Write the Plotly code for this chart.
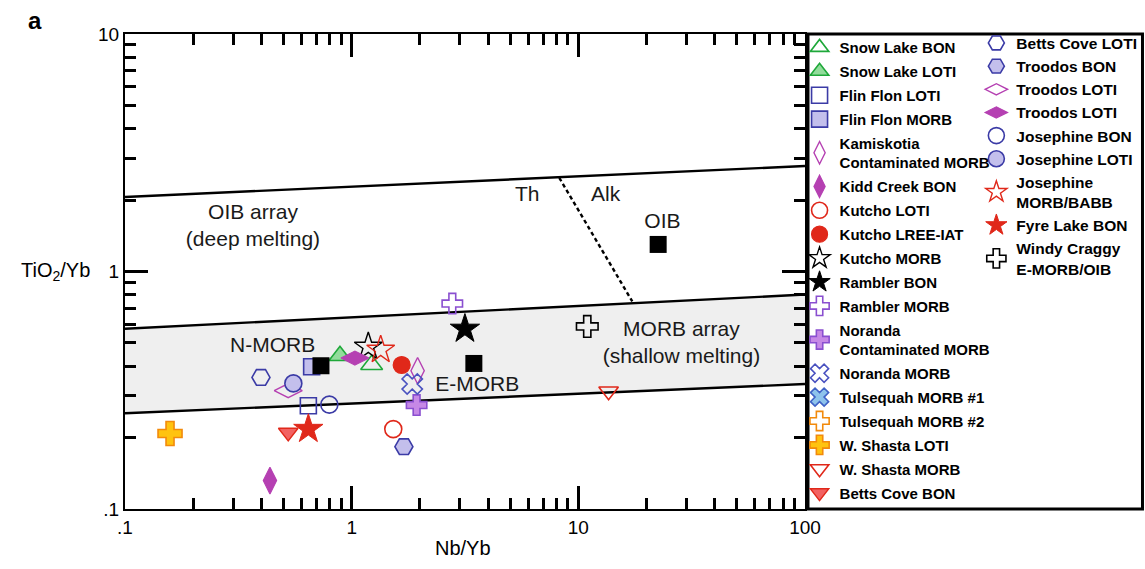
import plotly.graph_objects as go

# ---------------- data ----------------
# Reference compositions (black squares)
ref_labels = ["N-MORB", "E-MORB", "OIB"]
ref_nb_yb = [0.732, 3.46, 22.5]
ref_tio2_yb = [0.401, 0.410, 1.30]

# Array boundaries (Nb/Yb at the two ends of the x range)
band_x = [0.1, 100]
morb_lower = [0.253, 0.336]
morb_upper = [0.574, 0.800]
oib_upper = [2.06, 2.78]
# Tholeiitic / alkaline divider
divider_x = [8.24, 17.3]
divider_y = [2.48, 0.748]

# Samples: name, Nb/Yb, TiO2/Yb (None = legend only)
left_names = ["Snow Lake BON", "Snow Lake LOTI", "Flin Flon LOTI", "Flin Flon MORB",
              "Kamiskotia<br>Contaminated MORB", "Kidd Creek BON", "Kutcho LOTI",
              "Kutcho LREE-IAT", "Kutcho MORB", "Rambler BON", "Rambler MORB",
              "Noranda<br>Contaminated MORB", "Noranda MORB", "Tulsequah MORB #1",
              "Tulsequah MORB #2", "W. Shasta LOTI", "W. Shasta MORB", "Betts Cove BON"]
left_nb_yb = [1.225, 0.888, 0.644, 0.666, 1.954, 0.436, 1.526, 1.662, 1.184, 3.16, 2.78,
              1.934, 1.85, None, None, 0.158, 13.6, 0.525]
left_tio2_yb = [0.405, 0.442, 0.272, 0.397, 0.382, 0.1317, 0.217, 0.404, 0.482, 0.573, 0.733,
                0.274, 0.336, None, None, 0.208, 0.313, 0.210]

right_names = ["Betts Cove LOTI", "Troodos BON", "Troodos LOTI", "Troodos LOTI",
               "Josephine BON", "Josephine LOTI", "Josephine<br>MORB/BABB",
               "Fyre Lake BON", "Windy Craggy<br>E-MORB/OIB"]
right_nb_yb = [0.398, 1.70, 0.525, 1.034, 0.797, 0.553, 1.343, 0.644, 10.95]
right_tio2_yb = [0.358, 0.183, 0.315, 0.432, 0.275, 0.338, 0.468, 0.217, 0.587]

x_tickvals = [0.1, 1, 10, 100]
x_ticktext = [".1", "1", "10", "100"]
y_tickvals = [0.1, 1, 10]
y_ticktext = [".1", "1", "10"]

# ---------------- styles ----------------
GREEN, GREEN_F = "#1fa83a", "#92dc9b"
BLUE, LAV = "#3b3ba6", "#c3bfec"
MAG = "#b540b2"
RED = "#e0281a"
PURP, PURP_F = "#8a4fd0", "#c688e6"
XBLUE, XBLUE_F = "#3f62c6", "#8ec3ec"
ORANGE, YEL = "#f28a0c", "#ffc30f"
SALMON = "#f26262"

left_styles = [
    dict(symbol="triangle-up-open", size=19, color=GREEN, line=dict(color=GREEN, width=1.6)),
    dict(symbol="triangle-up", size=19, color=GREEN_F, line=dict(color=GREEN, width=1.6)),
    dict(symbol="square-open", size=16, color=BLUE, line=dict(color=BLUE, width=1.6)),
    dict(symbol="square", size=16, color=LAV, line=dict(color=BLUE, width=1.6)),
    dict(symbol="diamond-tall-open", size=19, color=MAG, line=dict(color=MAG, width=1.4)),
    dict(symbol="diamond-tall", size=19, color=MAG, line=dict(color=MAG, width=1.2)),
    dict(symbol="circle-open", size=17, color=RED, line=dict(color=RED, width=1.6)),
    dict(symbol="circle", size=17, color=RED, line=dict(color=RED, width=1.2)),
    dict(symbol="star-open", size=21, color="black", line=dict(color="black", width=1.4)),
    dict(symbol="star", size=22, color="black", line=dict(color="black", width=1)),
    dict(symbol="cross-open", size=17, color=PURP, line=dict(color=PURP, width=1.6)),
    dict(symbol="cross", size=17, color=PURP_F, line=dict(color=PURP, width=1.6)),
    dict(symbol="x-open", size=18, color="#4a52c0", line=dict(color="#4a52c0", width=1.6)),
    dict(symbol="x", size=18, color=XBLUE_F, line=dict(color=XBLUE, width=1.6)),
    dict(symbol="cross-open", size=18, color=ORANGE, line=dict(color=ORANGE, width=1.6)),
    dict(symbol="cross", size=20, color=YEL, line=dict(color=ORANGE, width=1.6)),
    dict(symbol="triangle-down-open", size=17, color=RED, line=dict(color=RED, width=1.6)),
    dict(symbol="triangle-down", size=17, color=SALMON, line=dict(color=RED, width=1.4)),
]
right_styles = [
    dict(symbol="hexagon2-open", size=18, color=BLUE, line=dict(color=BLUE, width=1.6)),
    dict(symbol="hexagon2", size=18, color=LAV, line=dict(color=BLUE, width=1.6)),
    dict(symbol="diamond-wide-open", size=20, color=MAG, line=dict(color=MAG, width=1.4)),
    dict(symbol="diamond-wide", size=20, color=MAG, line=dict(color=MAG, width=1.2)),
    dict(symbol="circle-open", size=17, color=BLUE, line=dict(color=BLUE, width=1.6)),
    dict(symbol="circle", size=17, color=LAV, line=dict(color=BLUE, width=1.6)),
    dict(symbol="star-open", size=21, color=RED, line=dict(color=RED, width=1.4)),
    dict(symbol="star", size=22, color=RED, line=dict(color=RED, width=1)),
    dict(symbol="cross-open", size=18, color="black", line=dict(color="black", width=1.6)),
]

FONT = "Liberation Sans, Arial, Helvetica, sans-serif"

fig = go.Figure()

# MORB array band (shaded)
fig.add_trace(go.Scatter(
    x=band_x + band_x[::-1], y=morb_lower + morb_upper[::-1],
    fill="toself", fillcolor="#efefef", mode="lines", line=dict(width=0),
    showlegend=False, hoverinfo="skip"))
for yy in (morb_lower, morb_upper, oib_upper):
    fig.add_trace(go.Scatter(x=band_x, y=yy, mode="lines",
                             line=dict(color="black", width=2.4),
                             showlegend=False, hoverinfo="skip"))
fig.add_trace(go.Scatter(x=divider_x, y=divider_y, mode="lines",
                         line=dict(color="black", width=2.4, dash="4px,3px"),
                         showlegend=False, hoverinfo="skip"))

# Region labels
label_text = ["OIB array<br>(deep melting)", "MORB array<br>(shallow melting)", "Th", "Alk",
              "N-MORB", "E-MORB", "OIB"]
label_x = [0.367, 28.5, 5.95, 13.2, 0.448, 3.58, 23.5]
label_y = [1.54, 0.493, 2.09, 2.08, 0.482, 0.330, 1.61]
fig.add_trace(go.Scatter(x=label_x, y=label_y, text=label_text, mode="text",
                         textposition="middle center",
                         textfont=dict(family=FONT, size=21, color="#1a1a1a"),
                         showlegend=False, hoverinfo="skip"))

# Sample traces
for i, (n, xv, yv, st) in enumerate(zip(left_names, left_nb_yb, left_tio2_yb, left_styles)):
    fig.add_trace(go.Scatter(x=[xv], y=[yv], mode="markers", name=n, marker=st,
                             legend="legend", legendgroup=f"L{i}"))
for i, (n, xv, yv, st) in enumerate(zip(right_names, right_nb_yb, right_tio2_yb, right_styles)):
    fig.add_trace(go.Scatter(x=[xv], y=[yv], mode="markers", name=n, marker=st,
                             legend="legend2", legendgroup=f"R{i}"))

# Reference compositions (drawn on top)
fig.add_trace(go.Scatter(x=ref_nb_yb, y=ref_tio2_yb, mode="markers",
                         marker=dict(symbol="square", size=17, color="black"),
                         text=ref_labels, showlegend=False))

axis_common = dict(
    type="log", showgrid=False, zeroline=False,
    showline=True, linecolor="black", linewidth=2, mirror="ticks",
    ticks="inside", ticklen=23, tickwidth=2.5, tickcolor="black",
    tickfont=dict(family=FONT, size=19, color="black"),
)
minor_x = [m * d for d in (0.1, 1, 10) for m in range(2, 10)]
minor_y = [m * d for d in (0.1, 1) for m in range(2, 10)]

fig.update_xaxes(range=[-1, 2], tickvals=x_tickvals, ticktext=x_ticktext,
                 minor=dict(tickvals=minor_x, ticks="inside", ticklen=11, tickwidth=2.5,
                            tickcolor="black", showgrid=False),
                 **axis_common)
fig.update_yaxes(range=[-1, 1], tickvals=y_tickvals, ticktext=y_ticktext,
                 minor=dict(tickvals=minor_y, ticks="inside", ticklen=11, tickwidth=2.5,
                            tickcolor="black", showgrid=False),
                 **axis_common)

legend_font1 = dict(family=FONT, size=15, color="black", weight="bold")
legend_font2 = dict(family=FONT, size=15.5, color="black", weight="bold")
fig.update_layout(
    width=1145, height=569,
    margin=dict(l=125, r=340, t=34, b=60, autoexpand=False),
    paper_bgcolor="white", plot_bgcolor="white",
    legend=dict(x=0.992, y=1.006, xanchor="left", yanchor="top", xref="paper", yref="paper",
                font=legend_font1, bgcolor="rgba(0,0,0,0)", tracegroupgap=1.4,
                maxheight=560, itemclick=False, itemdoubleclick=False),
    legend2=dict(x=1.252, y=1.016, xanchor="left", yanchor="top", xref="paper", yref="paper",
                 font=legend_font2, bgcolor="rgba(0,0,0,0)", tracegroupgap=0,
                 maxheight=560, itemclick=False, itemdoubleclick=False),
    shapes=[dict(type="rect", xref="paper", yref="paper", x0=1.0044, x1=1.4963, y0=0, y1=1,
                 line=dict(color="black", width=3), fillcolor="rgba(0,0,0,0)")],
    annotations=[
        dict(text="TiO<sub>2</sub>/Yb", xref="paper", yref="paper", x=-0.1015, y=0.501,
             xanchor="center", yanchor="middle",
             showarrow=False, font=dict(family=FONT, size=20, color="black")),
        dict(text="Nb/Yb", xref="paper", yref="paper", x=0.497, y=-0.082,
             xanchor="center", yanchor="middle",
             showarrow=False, font=dict(family=FONT, size=20, color="black")),
        dict(text="<b>a</b>", xref="paper", yref="paper", x=-0.132, y=1.029,
             xanchor="center", yanchor="middle",
             showarrow=False, font=dict(family=FONT, size=24, color="black")),
    ],
    showlegend=True,
)

fig.write_html("out.html")
